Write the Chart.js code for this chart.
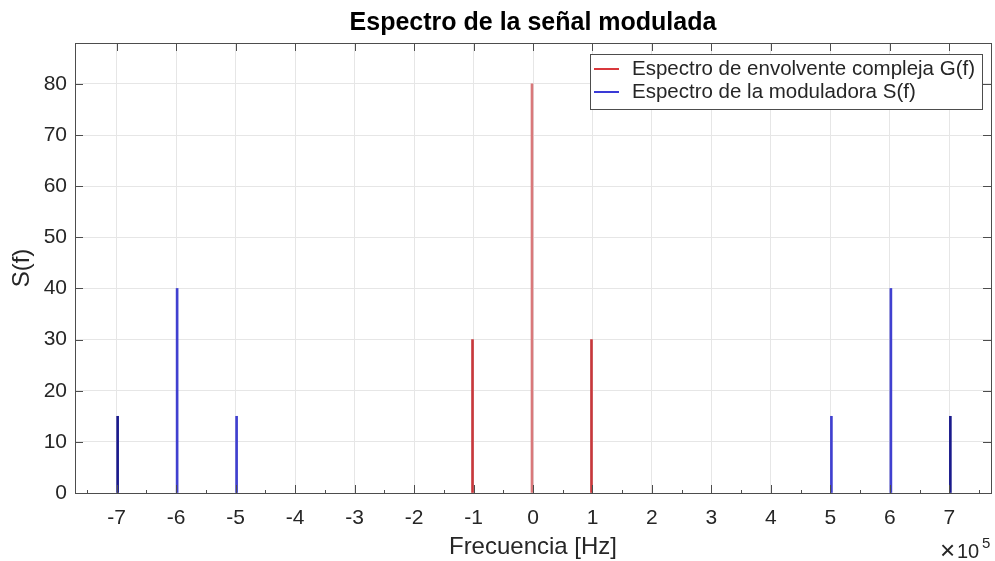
<!DOCTYPE html>
<html>
<head>
<meta charset="utf-8">
<script src="https://cdn.jsdelivr.net/npm/chart.js@4"></script>
<style>
  html, body { margin: 0; padding: 0; background: #fff; }
  #wrap { width: 995px; height: 561px; }
</style>
</head>
<body>
<div id="wrap"><canvas id="espectro" width="995" height="561"></canvas></div>
<script>
// frecuencias en unidades de 1e5 Hz
const freqG = [-1, 0, 1];
const valG = [30, 80, 30];
const colorG = ['#c8383c', '#d9787a', '#c8383c'];

const freqS = [-7, -6, -5, 5, 6, 7];
const valS = [15, 40, 15, 15, 40, 15];
const colorS = ['#1a1a8c', '#4040d0', '#4040d0', '#4040d0', '#4040d0', '#1a1a8c'];

const xTicks = [-7, -6, -5, -4, -3, -2, -1, 0, 1, 2, 3, 4, 5, 6, 7];
const yTicks = [0, 10, 20, 30, 40, 50, 60, 70, 80];

const FONT = '"Liberation Sans", Arial, sans-serif';
const TXT = '#262626';

// recuadro, marcas interiores y textos al estilo matlab
const marcoPlugin = {
    id: 'marco',
    afterDraw(chart) {
        const ctx = chart.ctx;
        const a = chart.chartArea;
        const xs = chart.scales.x, ys = chart.scales.y;
        ctx.save();
        ctx.strokeStyle = '#4d4d4d';
        ctx.lineWidth = 1;
        ctx.beginPath();
        xTicks.forEach(v => {
            const px = Math.round(xs.getPixelForValue(v)) + 0.5;
            ctx.moveTo(px, a.bottom); ctx.lineTo(px, a.bottom - 8);
            ctx.moveTo(px, a.top); ctx.lineTo(px, a.top + 8);
        });
        for (let v = -7.5; v <= 7.5; v += 1) {
            const px = Math.round(xs.getPixelForValue(v)) + 0.5;
            ctx.moveTo(px, a.bottom); ctx.lineTo(px, a.bottom - 3);
        }
        yTicks.forEach(v => {
            const py = Math.round(ys.getPixelForValue(v)) + 0.5;
            ctx.moveTo(a.left, py); ctx.lineTo(a.left + 8, py);
            ctx.moveTo(a.right, py); ctx.lineTo(a.right - 8, py);
        });
        ctx.stroke();
        ctx.strokeRect(Math.round(a.left) + 0.5, Math.round(a.top) + 0.5,
            Math.round(a.right - a.left), Math.round(a.bottom - a.top));

        ctx.fillStyle = '#000';
        ctx.font = 'bold 25px ' + FONT;
        ctx.textAlign = 'center';
        ctx.textBaseline = 'middle';
        ctx.fillText('Espectro de la señal modulada', (a.left + a.right) / 2, 23);

        ctx.fillStyle = TXT;
        ctx.font = '24px ' + FONT;
        ctx.fillText('Frecuencia [Hz]', (a.left + a.right) / 2, 547);
        ctx.save();
        ctx.translate(22, (a.top + a.bottom) / 2);
        ctx.rotate(-Math.PI / 2);
        ctx.fillText('S(f)', 0, 0);
        ctx.restore();

        // exponente del eje x
        ctx.textAlign = 'left';
        ctx.font = '26px ' + FONT;
        ctx.fillText('×', 940, 552);
        ctx.font = '20px ' + FONT;
        ctx.fillText('10', 957, 552);
        ctx.font = '15px ' + FONT;
        ctx.fillText('5', 982, 544);
        ctx.restore();
    }
};

new Chart(document.getElementById('espectro'), {
    type: 'bar',
    data: {
        datasets: [
            {
                label: 'Espectro de envolvente compleja G(f)',
                data: freqG.map((f, i) => ({ x: f, y: valG[i] })),
                backgroundColor: colorG,
                borderColor: '#d9383c',
                barThickness: 2
            },
            {
                label: 'Espectro de la moduladora S(f)',
                data: freqS.map((f, i) => ({ x: f, y: valS[i] })),
                backgroundColor: colorS,
                borderColor: '#3a3ad6',
                barThickness: 2
            }
        ]
    },
    options: {
        responsive: false,
        animation: false,
        layout: { padding: { top: 43, right: 4, left: 0, bottom: 0 } },
        plugins: {
            title: { display: false },
            tooltip: { enabled: false },
            legend: { display: false }
        },
        scales: {
            x: {
                type: 'linear',
                min: -7.7,
                max: 7.7,
                offset: false,
                afterBuildTicks: s => { s.ticks = xTicks.map(v => ({ value: v })); },
                afterFit: s => { s.height = 68; },
                grid: { color: '#e6e6e6', drawTicks: false, offset: false },
                border: { display: false },
                ticks: { color: TXT, font: { family: FONT, size: 21 }, padding: 13, maxRotation: 0 }
            },
            y: {
                min: 0,
                max: 88,
                afterBuildTicks: s => { s.ticks = yTicks.map(v => ({ value: v })); },
                afterFit: s => { s.width = 75; },
                grid: { color: '#e6e6e6', drawTicks: false },
                border: { display: false },
                ticks: { color: TXT, font: { family: FONT, size: 21 }, padding: 8 }
            }
        }
    },
    plugins: [marcoPlugin, {
        // leyenda en recuadro arriba a la derecha
        id: 'leyenda',
        afterDraw(chart) {
            const ctx = chart.ctx;
            ctx.save();
            ctx.fillStyle = '#fff';
            ctx.fillRect(590, 54, 392, 55);
            ctx.strokeStyle = '#4d4d4d';
            ctx.lineWidth = 1;
            ctx.strokeRect(590.5, 54.5, 392, 55);
            const items = chart.data.datasets;
            ctx.font = '20.5px ' + FONT;
            ctx.textBaseline = 'middle';
            ctx.textAlign = 'left';
            items.forEach((d, i) => {
                const y = 69 + i * 23;
                ctx.strokeStyle = d.borderColor;
                ctx.lineWidth = 2;
                ctx.beginPath();
                ctx.moveTo(594, y); ctx.lineTo(619, y);
                ctx.stroke();
                ctx.fillStyle = TXT;
                ctx.fillText(d.label, 632, y);
            });
            ctx.restore();
        }
    }]
});
</script>
</body>
</html>
